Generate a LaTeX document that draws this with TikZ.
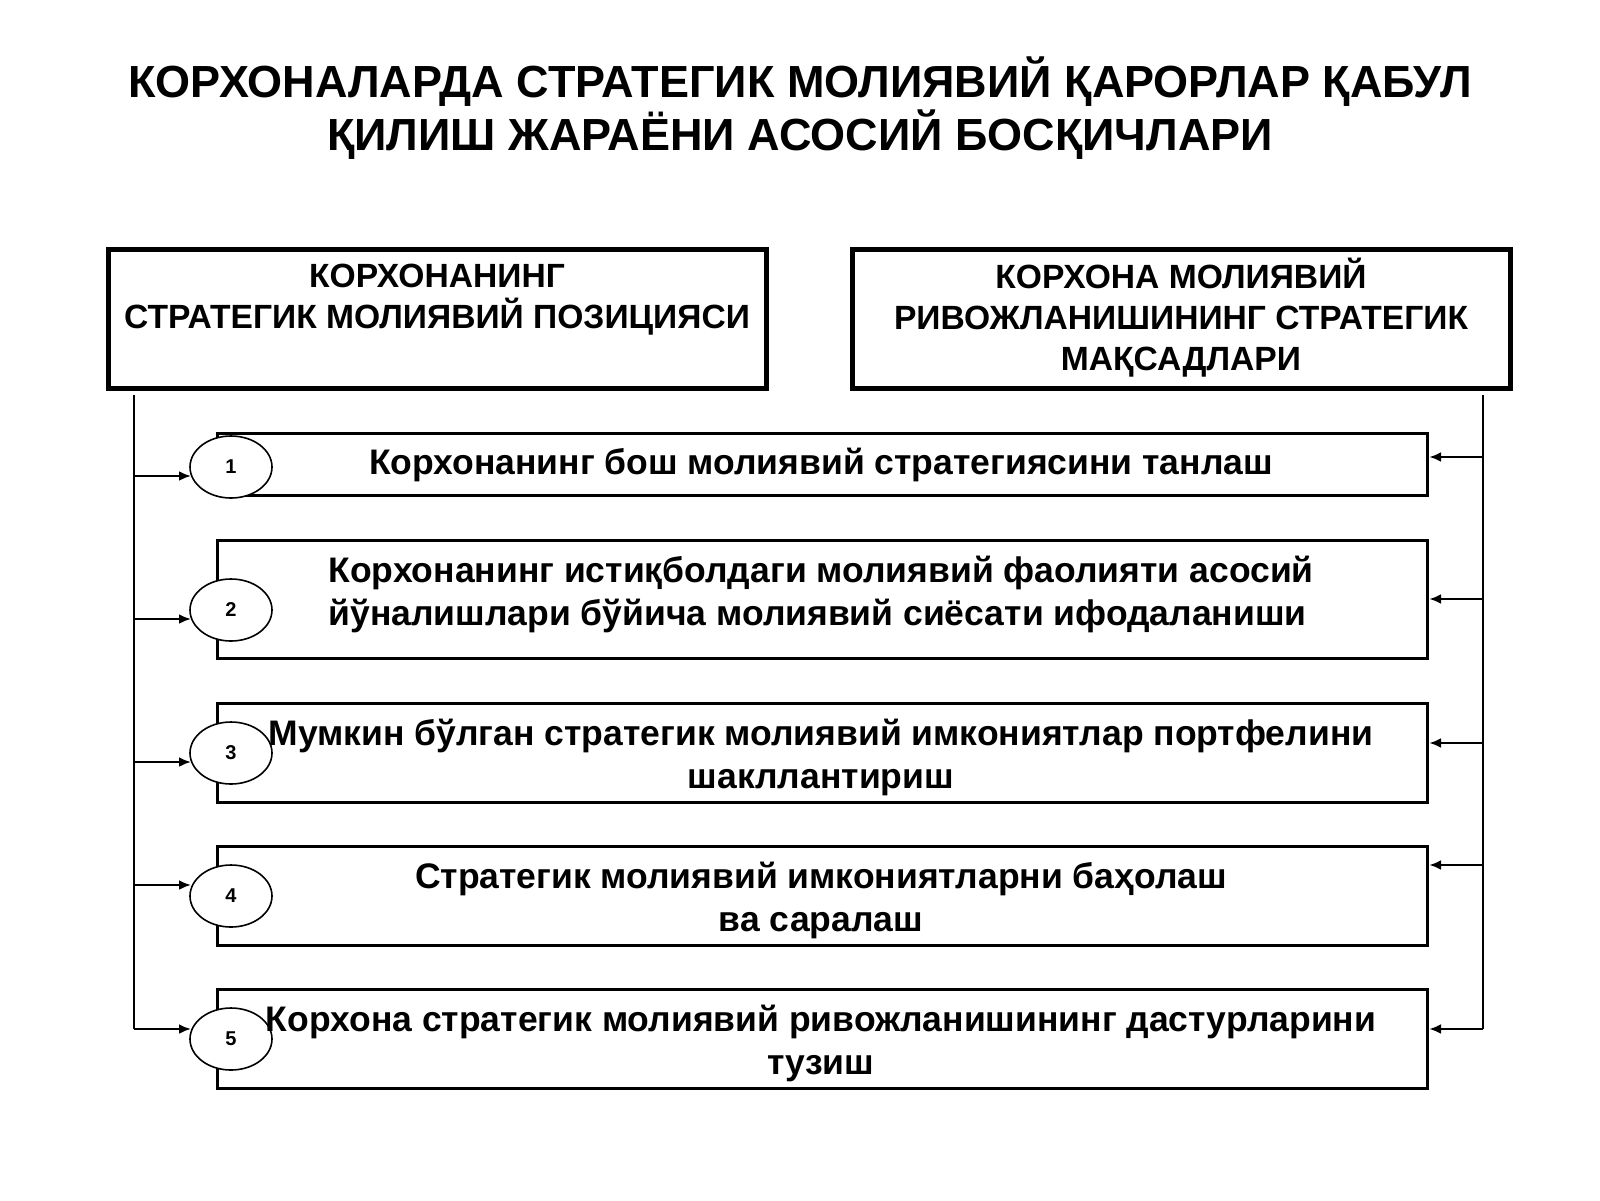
\documentclass[tikz,border=0pt]{standalone}
\usepackage{fontspec}
\setmainfont{Liberation Sans}
\usetikzlibrary{arrows.meta,shapes.geometric}
\begin{document}
\begin{tikzpicture}[x=1pt,y=-1pt,
  topbox/.style={draw, line width=5pt, minimum width=658pt, minimum height=139pt, inner sep=0pt},
  stepbox/.style={draw, line width=3.2pt, minimum width=1210pt, inner sep=0pt},
  toptext/.style={font=\fontsize{33.6}{41}\selectfont\bfseries, align=center, inner sep=0pt},
  steptext/.style={font=\fontsize{35.5}{43}\selectfont\bfseries, align=center, inner sep=0pt},
  numell/.style={ellipse, draw, line width=1.6pt, fill=white, minimum width=82pt, minimum height=62pt, inner sep=0pt, font=\fontsize{20}{20}\selectfont\bfseries},
  conn/.style={line width=2.8pt},
  arr/.style={line width=2.8pt, -{Latex[length=12pt,width=10pt]}}
]
\useasboundingbox (0,0) rectangle (1600,1200);

% title
\node[font=\fontsize{45}{53}\selectfont\bfseries, align=center, inner sep=0pt] (title) at (800,108)
  {КОРХОНАЛАРДА СТРАТЕГИК МОЛИЯВИЙ ҚАРОРЛАР ҚАБУЛ\\ҚИЛИШ ЖАРАЁНИ АСОСИЙ БОСҚИЧЛАРИ};

% top boxes
\node[topbox] (lb) at (437,318.5) {};
\node[topbox] (rb) at (1181,318.5) {};
\node[toptext] (lbt) at (437,300) {КОРХОНАНИНГ\\СТРАТЕГИК МОЛИЯВИЙ ПОЗИЦИЯСИ};
\node[toptext] (rbt) at (1181,318) {КОРХОНА МОЛИЯВИЙ\\РИВОЖЛАНИШИНИНГ СТРАТЕГИК\\МАҚСАДЛАРИ};

% step boxes
\node[stepbox, minimum height=62pt] (b1) at (822.5,464.5) {};
\node[stepbox, minimum height=118pt] (b2) at (822.5,599.5) {};
\node[stepbox, minimum height=99pt] (b3) at (822.5,753) {};
\node[stepbox, minimum height=99pt] (b4) at (822.5,896) {};
\node[stepbox, minimum height=99pt] (b5) at (822.5,1039) {};

% number ellipses
\node[numell] (e1) at (231,467) {1};
\node[numell] (e2) at (231,610) {2};
\node[numell] (e3) at (231,753) {3};
\node[numell] (e4) at (231,896) {4};
\node[numell] (e5) at (231,1039) {5};

% step texts
\node[steptext] (t1) at (821,465) {Корхонанинг бош молиявий стратегиясини танлаш};
\node[steptext, align=left] (t2) at (821,594) {Корхонанинг истиқболдаги молиявий фаолияти асосий\\йўналишлари бўйича молиявий сиёсати ифодаланиши};
\node[steptext] (t3) at (821,757) {Мумкин бўлган стратегик молиявий имкониятлар портфелини\\шакллантириш};
\node[steptext] (t4) at (821,900) {Стратегик молиявий имкониятларни баҳолаш\\ва саралаш};
\node[steptext] (t5) at (821,1043) {Корхона стратегик молиявий ривожланишининг дастурларини\\тузиш};

% left bus
\coordinate (ltop) at (134,395);
\coordinate (l1) at (134,476);
\coordinate (l2) at (134,619);
\coordinate (l3) at (134,762);
\coordinate (l4) at (134,885);
\coordinate (l5) at (134,1029);
\draw[conn] (ltop) -- (l5);
\draw[arr] (l1) -- (l1 -| e1.193);
\draw[arr] (l2) -- (l2 -| e2.193);
\draw[arr] (l3) -- (l3 -| e3.193);
\draw[arr] (l4) -- (l4 -| e4.167);
\draw[arr] (l5) -- (l5 -| e5.167);

% right bus
\coordinate (rtop) at (1483,395);
\coordinate (r1) at (1483,457);
\coordinate (r2) at (1483,599);
\coordinate (r3) at (1483,743);
\coordinate (r4) at (1483,865);
\coordinate (r5) at (1483,1029);
\draw[conn] (rtop) -- (r5);
\draw[arr] (r1) -- (r1 -| b1.east);
\draw[arr] (r2) -- (r2 -| b2.east);
\draw[arr] (r3) -- (r3 -| b3.east);
\draw[arr] (r4) -- (r4 -| b4.east);
\draw[arr] (r5) -- (r5 -| b5.east);
\end{tikzpicture}
\end{document}
